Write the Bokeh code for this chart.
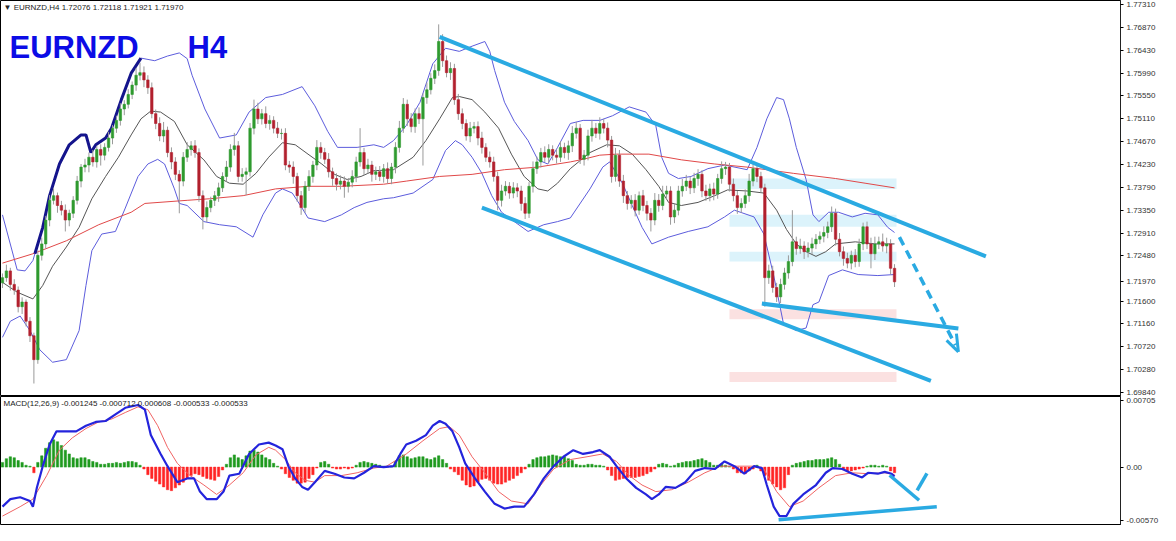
from bokeh.plotting import figure
from bokeh.layouts import column
from bokeh.models import (ColumnDataSource, FixedTicker, CustomJSTickFormatter,
                          Label, Range1d)
from bokeh.embed import file_html
from bokeh.resources import INLINE

# ---------------- DATA ----------------
symbol_header = "\u25BC EURNZD,H4  1.72076 1.72118 1.71921 1.71970"
macd_header = "MACD(12,26,9) -0.001245 -0.000712 0.000608 -0.000533 -0.000533"
last_price = 1.71970

first_open = 1.7195
closes = [
    1.7205, 1.7218, 1.7192, 1.7181, 1.7149, 1.7158, 1.7121, 1.7093, 1.7047, 1.7248,
    1.7270, 1.7316, 1.7354, 1.7363, 1.7344, 1.7335, 1.7316, 1.7329, 1.7354, 1.7391,
    1.7418, 1.7422, 1.7437, 1.7428, 1.7452, 1.7441, 1.7456, 1.7474, 1.7493, 1.7508,
    1.7530, 1.7539, 1.7558, 1.7576, 1.7595, 1.7600, 1.7586, 1.7571, 1.7521, 1.7502,
    1.7478, 1.7489, 1.7446, 1.7428, 1.7404, 1.7391, 1.7437, 1.7452, 1.7459, 1.7446,
    1.7363, 1.7322, 1.7340, 1.7354, 1.7363, 1.7378, 1.7400, 1.7418, 1.7452, 1.7459,
    1.7400, 1.7404, 1.7409, 1.7493, 1.7530, 1.7511, 1.7521, 1.7502, 1.7508, 1.7493,
    1.7483, 1.7483, 1.7422, 1.7418, 1.7400, 1.7363, 1.7340, 1.7381, 1.7400, 1.7422,
    1.7456, 1.7446, 1.7433, 1.7409, 1.7396, 1.7385, 1.7391, 1.7381, 1.7389, 1.7400,
    1.7428, 1.7446, 1.7415, 1.7422, 1.7404, 1.7409, 1.7400, 1.7415, 1.7396, 1.7418,
    1.7456, 1.7493, 1.7539, 1.7511, 1.7496, 1.7521, 1.7511, 1.7552, 1.7567, 1.7589,
    1.7604, 1.7660, 1.7623, 1.7600, 1.7608, 1.7548, 1.7521, 1.7502, 1.7478, 1.7493,
    1.7496, 1.7474, 1.7456, 1.7437, 1.7428, 1.7400, 1.7354, 1.7372, 1.7381, 1.7368,
    1.7378, 1.7372, 1.7348, 1.7329, 1.7381, 1.7415, 1.7428, 1.7446, 1.7437, 1.7452,
    1.7441, 1.7437, 1.7456, 1.7446, 1.7459, 1.7483, 1.7493, 1.7433, 1.7441, 1.7478,
    1.7493, 1.7483, 1.7502, 1.7493, 1.7470, 1.7400, 1.7441, 1.7391, 1.7363, 1.7348,
    1.7354, 1.7335, 1.7363, 1.7344, 1.7329, 1.7316, 1.7354, 1.7344, 1.7366, 1.7372,
    1.7322, 1.7335, 1.7372, 1.7381, 1.7391, 1.7378, 1.7396, 1.7404, 1.7372, 1.7363,
    1.7376, 1.7366, 1.7396, 1.7415, 1.7418, 1.7385, 1.7363, 1.7340, 1.7348, 1.7363,
    1.7391, 1.7415, 1.7400, 1.7378, 1.7205, 1.7218, 1.7186, 1.7168, 1.7192, 1.7214,
    1.7236, 1.7274, 1.7261, 1.7266, 1.7255, 1.7262, 1.7270, 1.7279, 1.7285, 1.7292,
    1.7303, 1.7329, 1.7279, 1.7255, 1.7242, 1.7233, 1.7248, 1.7236, 1.7270, 1.7303,
    1.7270, 1.7251, 1.7270, 1.7274, 1.7266, 1.7270, 1.7223, 1.7197,
]
# upper / lower wick lengths in pips (0.0001)
upper_wick = [
    8, 12, 6, 10, 7, 9, 5, 8, 6, 10,
    12, 8, 10, 14, 6, 9, 11, 7, 8, 10,
    6, 12, 9, 14, 7, 10, 8, 12, 6, 9,
    11, 8, 10, 7, 14, 19, 12, 9, 10, 8,
    12, 16, 7, 10, 9, 8, 10, 14, 9, 11,
    8, 10, 12, 7, 9, 10, 8, 12, 10, 25,
    9, 12, 8, 10, 18, 12, 9, 14, 10, 8,
    12, 9, 10, 8, 11, 7, 9, 10, 12, 8,
    14, 10, 9, 12, 8, 10, 11, 9, 8, 12,
    10, 47, 9, 12, 8, 10, 11, 9, 12, 8,
    10, 14, 12, 9, 11, 10, 12, 8, 14, 10,
    12, 33, 14, 10, 12, 9, 11, 10, 8, 12,
    9, 10, 12, 8, 11, 10, 9, 12, 10, 8,
    11, 9, 10, 12, 8, 14, 10, 9, 12, 10,
    8, 11, 12, 9, 10, 14, 12, 8, 10, 12,
    16, 10, 12, 9, 11, 8, 14, 10, 12, 9,
    10, 12, 8, 11, 9, 10, 14, 12, 16, 10,
    9, 12, 10, 14, 12, 9, 11, 10, 8, 12,
    10, 12, 9, 14, 10, 8, 11, 9, 10, 12,
    14, 13, 10, 9, 8, 12, 10, 9, 11, 10,
    12, 61, 10, 14, 9, 11, 12, 10, 9, 12,
    10, 13, 9, 12, 10, 11, 9, 12, 10, 8,
    10, 12, 14, 10, 16, 12, 9, 8,
]
lower_wick = [
    10, 8, 12, 9, 11, 14, 10, 12, 46, 8,
    10, 9, 12, 8, 14, 10, 22, 12, 9, 8,
    12, 10, 14, 9, 11, 20, 10, 8, 12, 9,
    10, 12, 8, 9, 11, 10, 14, 12, 9, 11,
    10, 12, 9, 14, 11, 62, 10, 9, 12, 10,
    12, 24, 10, 9, 11, 12, 8, 10, 9, 12,
    11, 10, 40, 9, 12, 10, 11, 9, 12, 10,
    9, 12, 10, 11, 14, 12, 14, 10, 9, 12,
    10, 12, 9, 11, 14, 12, 10, 22, 12, 10,
    11, 9, 12, 10, 14, 11, 9, 12, 10, 11,
    12, 10, 9, 14, 11, 12, 10, 90, 12, 9,
    11, 10, 12, 9, 14, 10, 12, 11, 9, 12,
    10, 14, 12, 9, 11, 10, 19, 12, 9, 11,
    10, 12, 14, 11, 9, 12, 10, 11, 9, 12,
    10, 12, 9, 11, 14, 12, 10, 9, 12, 10,
    11, 9, 12, 10, 14, 12, 10, 11, 14, 12,
    10, 12, 9, 11, 14, 22, 10, 12, 9, 11,
    15, 12, 10, 11, 9, 12, 10, 14, 12, 10,
    11, 12, 9, 10, 12, 14, 11, 12, 10, 9,
    12, 10, 11, 9, 56, 12, 10, 10, 12, 10,
    11, 9, 12, 10, 14, 11, 12, 10, 9, 12,
    11, 10, 12, 9, 14, 10, 12, 11, 10, 12,
    10, 28, 12, 10, 11, 14, 12, 10,
]

# Bollinger upper band (bar index, price)
bb_up_x = [0, 3.75, 5.75, 7.75, 8.25, 10.25, 12, 14.5, 17, 20, 21.25, 22.5, 23.75, 26.25, 27.75,
           30.25, 32.75, 35.25, 38.75, 42, 45, 47, 48.25, 51.5, 55.25, 59.5, 62.75, 67, 71.25,
           76.25, 79.5, 82.75, 85.25, 90.25, 94.5, 97, 99.5, 102.75, 106.25, 109.5, 112.75,
           116.25, 119.5, 122.75, 124, 125.25, 127.75, 130.25, 133.75, 136.25, 138.75, 141.25,
           144.5, 147.75, 152, 155.25, 159.5, 163.75, 166.25, 167.75, 169.5, 172, 175.25,
           179.5, 183.75, 189.5, 192, 194.5, 197, 198.75, 200.25, 202, 204.5, 206.25, 207.75,
           210.25, 212.75, 216.25, 219.5, 222.75, 225.25, 227]
bb_up = [1.7326, 1.7220, 1.7218, 1.7238, 1.7251, 1.7302, 1.7363, 1.7424, 1.7461, 1.7480, 1.7480,
         1.7446, 1.7461, 1.7474, 1.7493, 1.7548, 1.7599, 1.7628, 1.7623, 1.7632, 1.7638, 1.7627,
         1.7595, 1.7530, 1.7474, 1.7480, 1.7524, 1.7552, 1.7558, 1.7573, 1.7536, 1.7487, 1.7456,
         1.7456, 1.7461, 1.7456, 1.7469, 1.7498, 1.7543, 1.7617, 1.7647, 1.7641, 1.7651, 1.7660,
         1.7641, 1.7604, 1.7543, 1.7506, 1.7469, 1.7432, 1.7424, 1.7456, 1.7502, 1.7508, 1.7508,
         1.7517, 1.7534, 1.7524, 1.7498, 1.7437, 1.7406, 1.7396, 1.7400, 1.7415, 1.7422, 1.7413,
         1.7456, 1.7511, 1.7552, 1.7548, 1.7511, 1.7456, 1.7394, 1.7326, 1.7313, 1.7331, 1.7331,
         1.7322, 1.7329, 1.7326, 1.7302, 1.7292]
# bars over which the upper band is drawn heavy (hand-drawn highlight)
heavy_from, heavy_to = 8.25, 35.25

bb_lo_x = [0, 2, 4.5, 7, 9.5, 12.75, 16.25, 19.5, 21.25, 22.75, 25.25, 28.75, 31.25, 34.5, 37,
           39.5, 41.25, 43.75, 45, 47, 51.25, 55.25, 59.5, 63.75, 66.25, 69.5, 71.25, 73.75,
           76.25, 77.75, 82, 86.25, 89.5, 92.75, 97, 99.5, 104.5, 109.5, 112.75, 115.25, 117,
           119.5, 122, 124.5, 127, 130.25, 133.75, 137.75, 141.25, 144.5, 149.5, 152.75, 154.5,
           157.75, 160.25, 162.75, 165.25, 169.5, 174.5, 179.5, 183.75, 186.25, 191.25, 193.75,
           196.25, 198.75, 202, 204.5, 206.25, 207.75, 210.25, 213.75, 217.75, 222.75, 227]
bb_lo = [1.7090, 1.7121, 1.7131, 1.7103, 1.7066, 1.7042, 1.7047, 1.7103, 1.7190, 1.7257, 1.7289,
         1.7294, 1.7339, 1.7400, 1.7424, 1.7433, 1.7424, 1.7376, 1.7348, 1.7344, 1.7313, 1.7307,
         1.7303, 1.7283, 1.7326, 1.7368, 1.7376, 1.7368, 1.7339, 1.7320, 1.7313, 1.7326, 1.7340,
         1.7350, 1.7357, 1.7359, 1.7368, 1.7394, 1.7450, 1.7469, 1.7461, 1.7437, 1.7406, 1.7363,
         1.7331, 1.7313, 1.7294, 1.7307, 1.7313, 1.7320, 1.7376, 1.7418, 1.7428, 1.7387, 1.7344,
         1.7302, 1.7270, 1.7283, 1.7294, 1.7303, 1.7322, 1.7335, 1.7322, 1.7289, 1.7209, 1.7116,
         1.7103, 1.7108, 1.7153, 1.7158, 1.7209, 1.7220, 1.7211, 1.7209, 1.7211]

# Bollinger middle line (20 SMA)
bb_mid_x = [0, 3.75, 7.75, 10.25, 12.75, 16.25, 19.5, 22.75, 26.25, 29.5, 32.75, 35.25, 37.75,
            40.25, 43.75, 47, 51.25, 54.5, 57.75, 61.25, 64.5, 67.75, 71.25, 74.5, 77.75, 81.25,
            84.5, 87.75, 91.25, 94.5, 99.5, 104.5, 107.75, 111.25, 114.5, 116.25, 119.5, 122.75,
            126.25, 129.5, 132.75, 136.25, 138.75, 141.25, 144.5, 149.5, 153.75, 157, 160.25,
            163.75, 167, 169.5, 172.75, 177, 181.25, 184.5, 189.5, 193.75, 197, 199.5, 202,
            204.5, 207, 209.5, 212, 217, 222, 227]
bb_mid = [1.7196, 1.7177, 1.7164, 1.7190, 1.7227, 1.7264, 1.7302, 1.7357, 1.7400, 1.7437, 1.7480,
          1.7511, 1.7526, 1.7524, 1.7506, 1.7461, 1.7432, 1.7400, 1.7387, 1.7385, 1.7406, 1.7437,
          1.7465, 1.7461, 1.7443, 1.7424, 1.7404, 1.7394, 1.7400, 1.7411, 1.7413, 1.7437, 1.7469,
          1.7511, 1.7552, 1.7554, 1.7548, 1.7524, 1.7493, 1.7443, 1.7400, 1.7376, 1.7372, 1.7387,
          1.7415, 1.7446, 1.7461, 1.7459, 1.7443, 1.7413, 1.7381, 1.7350, 1.7344, 1.7350, 1.7363,
          1.7374, 1.7372, 1.7368, 1.7335, 1.7298, 1.7270, 1.7255, 1.7246, 1.7255, 1.7270, 1.7274,
          1.7270, 1.7270]

# slow moving average (red)
ma_x = [0, 7.75, 16.25, 24.5, 32.75, 36.25, 47, 52.75, 61.25, 69.5, 77.75, 86.25, 97, 102.75,
        111.25, 119.5, 127.75, 136.25, 144.5, 147.75, 152, 156.25, 164.5, 172.75, 181.25, 189.5,
        201.25, 212, 219.5, 227]
ma = [1.7233, 1.7251, 1.7276, 1.7307, 1.7331, 1.7348, 1.7354, 1.7357, 1.7363, 1.7376, 1.7381,
      1.7381, 1.7385, 1.7391, 1.7400, 1.7404, 1.7413, 1.7418, 1.7428, 1.7433, 1.7441, 1.7443,
      1.7443, 1.7432, 1.7424, 1.7418, 1.7406, 1.7396, 1.7387, 1.7378]

# MACD main line (blue) and signal line (red)
macd_x = [0, 2, 4.5, 7, 7.75, 8.75, 10.25, 12, 13.75, 16.25, 18.75, 21.25, 23.75, 26.25, 28.75,
          31.25, 34.5, 36.25, 37.75, 40.25, 42, 44.5, 47, 48.75, 50.25, 52, 54.5, 56.25, 57.75,
          60.25, 62.75, 65.25, 67.75, 69.5, 71.25, 72.75, 74.5, 76.25, 77.75, 79.5, 82, 84.5, 87,
          89.5, 92, 94.5, 97, 99.5, 101.25, 102.75, 105.25, 107.75, 109.5, 111.25, 112.75, 114.5,
          116.25, 117.75, 120.25, 122.75, 125.25, 127.75, 130.25, 132.75, 135.25, 137.75, 140.25,
          142.75, 145.25, 147.75, 150.25, 152, 154.5, 156.25, 158.75, 161.25, 163.75, 165.25, 167,
          168.75, 171.25, 173.75, 176.25, 178.75, 181.25, 183.75, 186.25, 188.75, 191.25, 193.25,
          194.5, 196.25, 197.75, 199.5, 201.25, 203.75, 207, 209.5, 211.25, 213.75, 216.25, 218.75,
          220.25, 222.75, 224.5, 226.25, 227]
macd = [-0.0042, -0.0034, -0.0032, -0.0036, -0.0042, -0.0022, 0.0001, 0.0024, 0.0038, 0.0038,
        0.0038, 0.0044, 0.0048, 0.0049, 0.0056, 0.0063, 0.0066, 0.0061, 0.0034, 0.0014, 0.0001,
        -0.0016, -0.0012, -0.0012, -0.0026, -0.0034, -0.0034, -0.0026, -0.0009, -0.0007, 0.0014,
        0.0024, 0.0026, 0.0023, 0.0019, 0.0001, -0.0012, -0.0021, -0.0024, -0.0016, -0.0004,
        -0.0007, -0.0011, -0.0012, -0.0006, 0.0001, 0.0000, 0.0001, 0.0014, 0.0024, 0.0028,
        0.0034, 0.0044, 0.0049, 0.0046, 0.0038, 0.0021, 0.0004, -0.0012, -0.0026, -0.0039,
        -0.0044, -0.0042, -0.0042, -0.0029, -0.0012, 0.0001, 0.0011, 0.0018, 0.0014, 0.0016,
        0.0018, 0.0011, 0.0001, -0.0012, -0.0022, -0.0029, -0.0034, -0.0029, -0.0021, -0.0022,
        -0.0016, -0.0004, -0.0001, -0.0002, 0.0006, 0.0001, -0.0007, 0.0001, -0.0001, -0.0019,
        -0.0042, -0.0052, -0.0052, -0.0039, -0.0029, -0.0019, -0.0006, -0.0001, -0.0002, -0.0007,
        -0.0011, -0.0006, -0.0007, -0.0005, -0.0007, -0.0010]
signal_x = [0, 4.5, 7.75, 11.25, 14.5, 17.75, 21.25, 24.5, 27.75, 31.25, 34.5, 37, 39.5, 42,
            44.5, 47.75, 51.25, 54.5, 57.75, 61.25, 64.5, 67.75, 69.5, 72, 74.5, 77, 79.5, 82,
            86.25, 90.25, 94.5, 97.75, 102.75, 107, 111.25, 113.75, 116.25, 119.5, 122.75, 126.25,
            129.5, 133.75, 137, 140.25, 144.5, 148.75, 152.75, 156.25, 159.5, 162.75, 166.25,
            170.25, 174.5, 178.75, 182.75, 187, 191.25, 193.75, 197, 200.25, 203.75, 207.75, 212,
            216.25, 220.25, 224.5, 227]
signal = [-0.0052, -0.0042, -0.0034, -0.0009, 0.0018, 0.0031, 0.0041, 0.0048, 0.0051, 0.0058,
          0.0064, 0.0061, 0.0044, 0.0021, 0.0004, -0.0009, -0.0019, -0.0029, -0.0019, -0.0006,
          0.0013, 0.0021, 0.0018, 0.0008, -0.0006, -0.0014, -0.0016, -0.0009, -0.0009, -0.0006,
          -0.0001, 0.0001, 0.0014, 0.0028, 0.0041, 0.0043, 0.0034, 0.0011, -0.0006, -0.0026,
          -0.0036, -0.0039, -0.0019, -0.0002, 0.0008, 0.0011, 0.0014, 0.0006, -0.0009, -0.0019,
          -0.0026, -0.0024, -0.0016, -0.0006, 0.0001, 0.0001, 0.0001, -0.0002, -0.0026, -0.0042,
          -0.0036, -0.0022, -0.0009, -0.0006, -0.0007, -0.0006, -0.0008]
# MACD histogram, one value per bar
histogram = [
    0.0005, 0.0009, 0.0011, 0.0010, 0.0007, 0.0005, 0.0002, 0.0001, -0.0006, 0.0005,
    0.0012, 0.0020, 0.0026, 0.0029, 0.0027, 0.0023, 0.0018, 0.0014, 0.0010, 0.0009,
    0.0010, 0.0010, 0.0008, 0.0006, 0.0005, 0.0003, 0.0003, 0.0004, 0.0004, 0.0005,
    0.0004, 0.0005, 0.0006, 0.0006, 0.0005, 0.0002, -0.0002, -0.0008, -0.0012, -0.0015,
    -0.0018, -0.0021, -0.0024, -0.0025, -0.0022, -0.0019, -0.0016, -0.0012, -0.0009, -0.0007,
    -0.0008, -0.0010, -0.0012, -0.0013, -0.0014, -0.0010, -0.0003, 0.0003, 0.0010, 0.0013,
    0.0010, 0.0008, 0.0012, 0.0017, 0.0018, 0.0016, 0.0013, 0.0010, 0.0008, 0.0004,
    0.0001, -0.0002, -0.0007, -0.0011, -0.0014, -0.0017, -0.0017, -0.0016, -0.0012, -0.0008,
    -0.0001, 0.0005, 0.0006, 0.0003, -0.0001, -0.0002, -0.0002, -0.0001, -0.0002, -0.0001,
    0.0002, 0.0005, 0.0006, 0.0005, 0.0004, 0.0003, 0.0002, 0.0001, 0.0001, 0.0001,
    0.0006, 0.0012, 0.0013, 0.0011, 0.0009, 0.0010, 0.0011, 0.0011, 0.0009, 0.0008,
    0.0010, 0.0012, 0.0008, 0.0004, -0.0002, -0.0005, -0.0008, -0.0014, -0.0019, -0.0021,
    -0.0020, -0.0016, -0.0013, -0.0012, -0.0014, -0.0017, -0.0018, -0.0018, -0.0016, -0.0014,
    -0.0012, -0.0009, -0.0006, -0.0002, 0.0003, 0.0008, 0.0010, 0.0011, 0.0011, 0.0012,
    0.0013, 0.0012, 0.0011, 0.0011, 0.0009, 0.0007, 0.0003, 0.0002, 0.0002, 0.0003,
    0.0003, 0.0002, 0.0002, 0.0001, -0.0003, -0.0009, -0.0014, -0.0013, -0.0012, -0.0011,
    -0.0011, -0.0011, -0.0010, -0.0009, -0.0007, -0.0005, -0.0002, 0.0003, 0.0004, 0.0003,
    0.0001, 0.0002, 0.0004, 0.0005, 0.0006, 0.0006, 0.0007, 0.0008, 0.0009, 0.0007,
    0.0005, 0.0002, 0.0002, 0.0003, 0.0002, 0.0001, -0.0002, -0.0006, -0.0006, -0.0007,
    -0.0004, -0.0002, 0.0002, -0.0004, -0.0009, -0.0014, -0.0018, -0.0021, -0.0024, -0.0022,
    -0.0008, 0.0002, 0.0004, 0.0005, 0.0006, 0.0007, 0.0007, 0.0008, 0.0008, 0.0008,
    0.0009, 0.0010, 0.0008, 0.0003, -0.0003, -0.0004, -0.0004, -0.0003, -0.0002, -0.0001,
    0.0001, 0.0002, 0.0002, 0.0001, 0.0002, 0.0001, -0.0004, -0.0006,
]

# hand-drawn analysis objects (bar index, price / MACD value)
channel_upper = ([111.25, 250.25], [1.7669, 1.7246])
channel_lower = ([122.0, 236.25], [1.7340, 1.7006])
support_line = ([193.25, 243.25], [1.7155, 1.7107])
projection = ([228.25, 242.5], [1.7283, 1.7075])
arrow_wing1 = ([240.25, 243.25], [1.7084, 1.7062])
arrow_wing2 = ([242.75, 243.25], [1.7097, 1.7062])
zones_cyan = [(185, 227.5, 1.7396, 1.7376), (185, 227.5, 1.7326, 1.7303), (185, 227.5, 1.7255, 1.7236)]
zones_pink = [(185, 227.5, 1.7144, 1.7125), (185, 227.5, 1.7023, 1.7004)]
macd_lines = [([225.75, 233.25], [-0.00086, -0.00352]),
              ([232.75, 235.25], [-0.00247, -0.00067]),
              ([197.5, 237.75], [-0.0056, -0.0042])]

price_ticks = [1.77310, 1.76870, 1.76430, 1.75990, 1.75550, 1.75110, 1.74670, 1.74230, 1.73790,
               1.73350, 1.72910, 1.72480, 1.71600, 1.71160, 1.70720, 1.70280, 1.69840]
macd_ticks = [0.00705, 0.0, -0.00570]

# ---------------- BUILD ----------------
n = min(len(closes), len(upper_wick), len(lower_wick))
idx = list(range(n))
opens = [first_open] + closes[:n - 1]
tops = [max(o, c) for o, c in zip(opens, closes[:n])]
bots = [min(o, c) for o, c in zip(opens, closes[:n])]
highs = [t + w * 0.0001 for t, w in zip(tops, upper_wick[:n])]
lows = [b - w * 0.0001 for b, w in zip(bots, lower_wick[:n])]
cols = ["#2f9a2f" if c >= o else "#b2202e" for o, c in zip(opens, closes[:n])]
bots_v = [b if t - b > 0.00004 else b - 0.00003 for t, b in zip(tops, bots)]
cs = ColumnDataSource(dict(x=idx, top=tops, bottom=bots_v, high=highs, low=lows, color=cols))

FW = 1120
XR = Range1d(-0.5, 284.5)
FONT = "Liberation Sans"


def style_axis(a):
    a.major_label_text_font = FONT
    a.major_label_text_font_size = "8px"
    a.major_label_text_color = "#333333"
    a.major_tick_in = 0
    a.major_tick_out = 3
    a.minor_tick_out = 0
    a.minor_tick_in = 0
    a.major_label_standoff = 3
    a.axis_line_color = "#222222"


p = figure(frame_width=FW, frame_height=396, x_range=XR, y_range=Range1d(1.6976, 1.7739),
           y_axis_location="right", x_axis_location=None, toolbar_location=None,
           output_backend="svg", min_border=0)
p.grid.visible = False
p.outline_line_color = "black"
p.background_fill_color = "white"
ax = p.yaxis[0]
# the current (last) price is shown on the price scale as well
ax.ticker = FixedTicker(ticks=sorted(price_ticks + [last_price], reverse=True))
ax.formatter = CustomJSTickFormatter(code="return tick.toFixed(5);")
style_axis(ax)

# zones
for (l, r, t, b) in zones_cyan:
    p.quad(left=l, right=r, top=t, bottom=b, fill_color="#dcf3fb", line_color=None)
for (l, r, t, b) in zones_pink:
    p.quad(left=l, right=r, top=t, bottom=b, fill_color="#fbe1e1", line_color=None)

# indicators
p.line(bb_up_x, bb_up, line_color="#5c5cdc", line_width=1)
p.line(bb_lo_x, bb_lo, line_color="#5c5cdc", line_width=1)
p.line(bb_mid_x, bb_mid, line_color="#555555", line_width=1)
p.line(ma_x, ma, line_color="#e04848", line_width=1)
hx = [x for x in bb_up_x if heavy_from <= x <= heavy_to]
hy = [y for x, y in zip(bb_up_x, bb_up) if heavy_from <= x <= heavy_to]
p.line(hx, hy, line_color="#14148c", line_width=3)

# candles
p.segment(x0="x", y0="low", x1="x", y1="high", source=cs, line_color="#9a9a9a", line_width=1)
p.vbar(x="x", top="top", bottom="bottom", width=0.62, source=cs, fill_color="color",
       line_color="color", line_width=0.6)

# drawings
BL = "#2aaae2"
for (xs, ys) in (channel_upper, channel_lower, support_line):
    p.line(xs, ys, line_color=BL, line_width=4)
p.line(projection[0], projection[1], line_color=BL, line_width=3.5, line_dash="9 6")
for (xs, ys) in (arrow_wing1, arrow_wing2):
    p.line(xs, ys, line_color=BL, line_width=3)

p.add_layout(Label(x=3, y=394, x_units="screen", y_units="screen", text=symbol_header,
                   text_font=FONT, text_font_size="8px", text_color="#222222",
                   text_baseline="top"))
p.add_layout(Label(x=9, y=349, x_units="screen", y_units="screen", text="EURNZD",
                   text_font=FONT, text_font_style="bold", text_font_size="31px",
                   text_color="#0c0ce6", text_baseline="alphabetic"))
p.add_layout(Label(x=187, y=349, x_units="screen", y_units="screen", text="H4",
                   text_font=FONT, text_font_style="bold", text_font_size="31px",
                   text_color="#0c0ce6", text_baseline="alphabetic"))

# ---------------- MACD ----------------
m = figure(frame_width=FW, frame_height=129, x_range=XR, y_range=Range1d(-0.0062, 0.0075),
           y_axis_location="right", x_axis_location=None, toolbar_location=None,
           output_backend="svg", min_border=0)
m.grid.visible = False
m.outline_line_color = "black"
mx = m.yaxis[0]
mx.ticker = FixedTicker(ticks=macd_ticks)
mx.formatter = CustomJSTickFormatter(
    code="if (Math.abs(tick) < 1e-12) { return '0.00'; } return tick.toFixed(5);")
style_axis(mx)

nh = min(n, len(histogram))
hs = ColumnDataSource(dict(x=list(range(nh)), top=histogram[:nh],
                           color=["#1f9a1f" if h >= 0 else "#ff2424" for h in histogram[:nh]]))
m.vbar(x="x", top="top", bottom=0, width=0.6, source=hs, fill_color="color", line_color="color",
       line_width=0.5)
m.line(signal_x, signal, line_color="#f06464", line_width=1)
m.line(macd_x, macd, line_color="#2424dc", line_width=2.2)
for (xs, ys) in macd_lines:
    m.line(xs, ys, line_color=BL, line_width=3.5)
m.add_layout(Label(x=3, y=127, x_units="screen", y_units="screen", text=macd_header,
                   text_font=FONT, text_font_size="8px", text_color="#222222",
                   text_baseline="top"))

layout = column(p, m, spacing=0)
open("out.html", "w").write(file_html(layout, INLINE))
